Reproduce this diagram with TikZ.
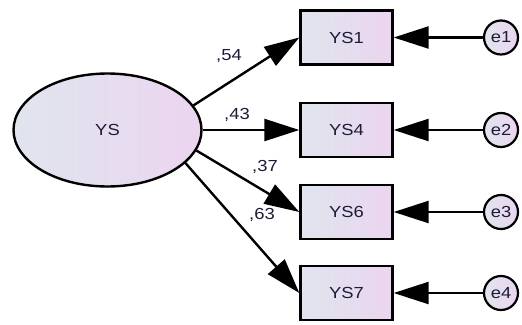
\documentclass[tikz,border=0pt]{standalone}
\usepackage{fontspec}
\setmainfont{Liberation Sans}[FakeStretch=1.15]
\usetikzlibrary{arrows.meta, shapes.geometric}

\definecolor{fillblue}{HTML}{E0E5EE}
\definecolor{fillpink}{HTML}{EBD5EF}
\definecolor{textnavy}{HTML}{1C1C38}

\begin{document}
\begin{tikzpicture}[
    x=1pt, y=-1pt,
    font=\fontsize{16}{19}\selectfont,
    softfill/.style={left color=fillblue, right color=fillpink},
    latent/.style={ellipse, draw, line width=2.4pt, softfill, text=textnavy,
        minimum width=188pt, minimum height=113pt},
    observed/.style={rectangle, draw, line width=2.4pt, softfill, text=textnavy,
        minimum width=92pt, minimum height=54pt},
    errvar/.style={circle, draw, line width=2.2pt, softfill, text=textnavy,
        minimum size=34pt, inner sep=0pt},
    loading/.style={line width=2.4pt, -{Triangle[length=35pt, width=22pt]}},
    weight/.style={text=textnavy, inner sep=0pt}
]
    \useasboundingbox (0,0) rectangle (522,324);

    % 1. Latent factor and its four indicators
    \node[latent] (ys) at (107.5,130) {YS};
    \node[observed] (ys1) at (346.5,37.5) {YS1};
    \node[observed] (ys4) at (346.5,130) {YS4};
    \node[observed] (ys6) at (346.5,212) {YS6};
    \node[observed] (ys7) at (346.5,293) {YS7};

    % 2. Error terms
    \node[errvar] (e1) at (501,37.5) {e1};
    \node[errvar] (e2) at (501,130) {e2};
    \node[errvar] (e3) at (501,212) {e3};
    \node[errvar] (e4) at (501,293) {e4};

    % 3. Factor loadings
    \draw[loading] (ys.16) -- (ys1.west);
    \draw[loading] (ys.east) -- (ys4.west);
    \draw[loading] (ys.-13) -- (ys6.west);
    \draw[loading] (ys.-23) -- (ys7.west);

    \node[weight] (w1) at (229,56) {,54};
    \node[weight] (w4) at (237,115) {,43};
    \node[weight] (w6) at (265,167) {,37};
    \node[weight] (w7) at (262,215) {,63};

    % 4. Errors point into the indicators
    \foreach \i/\obs in {1/ys1, 2/ys4, 3/ys6, 4/ys7}
        \draw[loading] (e\i) -- (\obs.east);

\end{tikzpicture}
\end{document}
